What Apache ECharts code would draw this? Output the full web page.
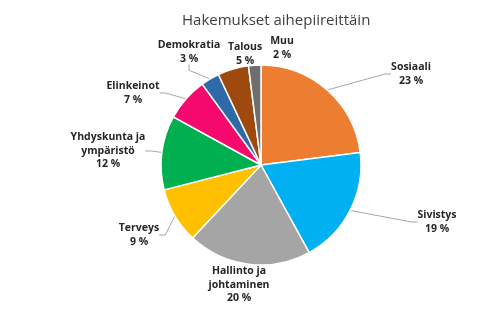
<!DOCTYPE html>
<html><head><meta charset="utf-8">
<script src="https://cdn.jsdelivr.net/npm/echarts@6/dist/echarts.min.js"></script>
<style>html,body{margin:0;padding:0;background:#fff}#c{width:504px;height:311px}</style>
</head><body><div id="c"></div>
<script>
var categories = ['Sosiaali','Sivistys','Hallinto ja\njohtaminen','Terveys','Yhdyskunta ja\nympäristö','Elinkeinot','Demokratia','Talous','Muu'];
var values = [23,19,20,9,12,7,3,5,2];
var colors = ['#ED7D31','#00B0F0','#A5A5A5','#FFC000','#00B050','#F5096E','#2E6AA8','#9E4A0E','#6E6E6E'];
var labelPos = [[411,74],[437,222],[239,285],[139,235],[108,151],[133,93],[189,52],[245,54],[282,48]];
var showLine = [true,true,false,true,true,true,true,false,false];
var chart = echarts.init(document.getElementById('c'));
chart.setOption({
  animation:false,
  title:{text:'Hakemukset aihepiireittäin',left:177,top:8,textStyle:{fontFamily:'Open Sans',fontWeight:'normal',fontSize:15,color:'#404040'}},
  series:[{type:'pie',center:[261,165],radius:[0,100],startAngle:90,clockwise:true,
    data:categories.map(function(c,i){return {name:c,value:values[i],itemStyle:{color:colors[i]},labelLine:{show:showLine[i]}};}),
    itemStyle:{borderColor:'#fff',borderWidth:1.5},
    label:{show:true,position:'outside',formatter:function(p){return '{b|'+p.name.split('\n').join('}\n{b|')+'}\n{b|'+p.value+' %}';},
      rich:{b:{fontFamily:'Open Sans',fontWeight:'bold',fontSize:10.5,color:'#262626',lineHeight:13.5,align:'center'}},align:'center'},
    labelLine:{show:true,length:8,length2:6,lineStyle:{color:'#A6A6A6',width:1}},
    labelLayout:function(p){var q=labelPos[p.dataIndex];return {x:q[0],y:q[1],align:'center',verticalAlign:'middle'};}
  }]
});
</script></body></html>
